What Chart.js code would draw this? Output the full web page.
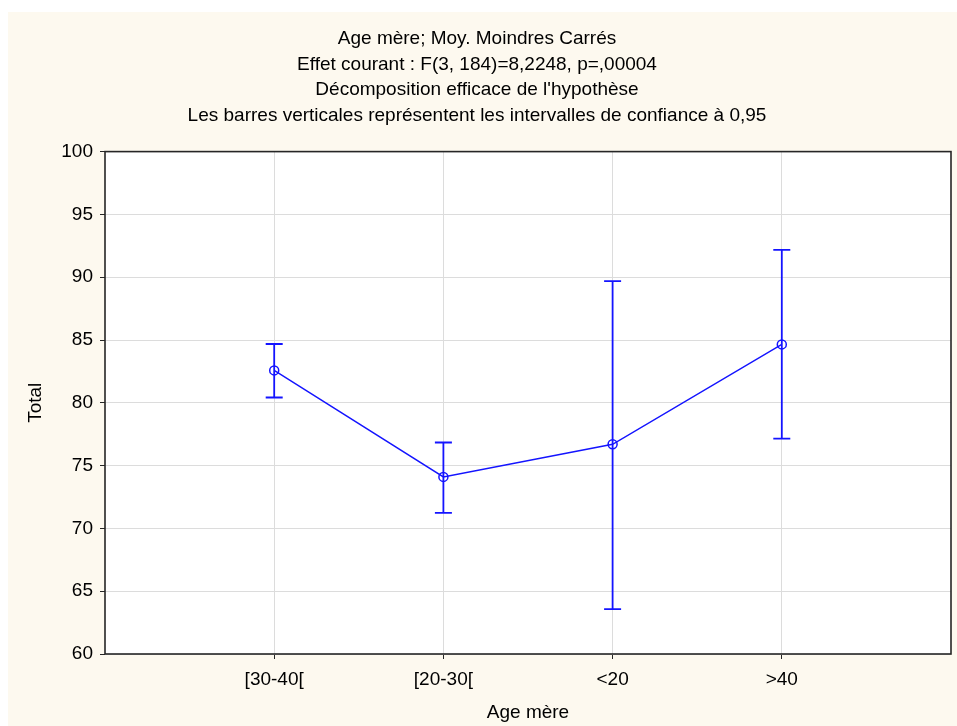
<!DOCTYPE html>
<html>
<head>
<meta charset="utf-8">
<script src="https://cdn.jsdelivr.net/npm/chart.js@4/dist/chart.umd.min.js"></script>
<style>
  html, body { margin: 0; padding: 0; background: #ffffff; }
  #wrap { width: 957px; height: 726px; }
</style>
</head>
<body>
<div id="wrap"><canvas id="chart" width="957" height="726"></canvas></div>
<script>
// Least-squares means of "Total" by mother's age group, with 95% confidence limits
const categories = ['[30-40[', '[20-30[', '<20', '>40'];
const means      = [82.58, 74.10, 76.70, 84.65];
const lowerCI    = [80.42, 71.24, 63.58, 77.15];
const upperCI    = [84.68, 76.84, 89.69, 92.18];
const yTicks     = [60, 65, 70, 75, 80, 85, 90, 95, 100];

const titleLines = [
  'Age mère; Moy. Moindres Carrés',
  'Effet courant : F(3, 184)=8,2248, p=,00004',
  'Décomposition efficace de l\'hypothèse',
  'Les barres verticales représentent les intervalles de confiance à 0,95'
];

const BLUE = '#1414ff';
const FONT = 'Liberation Sans, Arial, Helvetica, sans-serif';

// Page frame: cream surround, white plotting area
const framePlugin = {
  id: 'frame',
  beforeDraw(chart) {
    const { ctx, chartArea: a } = chart;
    ctx.save();
    ctx.fillStyle = '#ffffff';
    ctx.fillRect(0, 0, chart.width, chart.height);
    ctx.fillStyle = '#fdf9ef';
    ctx.fillRect(8, 12, chart.width - 8, chart.height - 12);
    ctx.fillStyle = '#ffffff';
    ctx.fillRect(a.left, a.top, a.right - a.left, a.bottom - a.top);
    ctx.restore();
  },
  afterDraw(chart) {
    const { ctx, chartArea: a } = chart;
    ctx.save();
    ctx.strokeStyle = '#262626';
    ctx.lineWidth = 1.6;
    ctx.strokeRect(a.left, a.top, a.right - a.left, a.bottom - a.top);
    ctx.restore();
  }
};

// Vertical confidence-interval bars with caps
const errorBarPlugin = {
  id: 'errorBars',
  afterDatasetsDraw(chart) {
    const { ctx, scales: { x, y } } = chart;
    const cap = 8.5;
    ctx.save();
    ctx.strokeStyle = BLUE;
    ctx.lineWidth = 1.8;
    categories.forEach((c, i) => {
      const px = x.getPixelForValue(i + 1);
      const yl = y.getPixelForValue(lowerCI[i]);
      const yu = y.getPixelForValue(upperCI[i]);
      ctx.beginPath();
      ctx.moveTo(px, yl); ctx.lineTo(px, yu);
      ctx.moveTo(px - cap, yu); ctx.lineTo(px + cap, yu);
      ctx.moveTo(px - cap, yl); ctx.lineTo(px + cap, yl);
      ctx.stroke();
    });
    ctx.restore();
  }
};

new Chart(document.getElementById('chart'), {
  type: 'line',
  data: {
    datasets: [{
      data: means.map((v, i) => ({ x: i + 1, y: v })),
      borderColor: BLUE,
      borderWidth: 1.4,
      tension: 0,
      pointStyle: 'circle',
      pointRadius: 4.5,
      pointBorderWidth: 1.5,
      pointBorderColor: BLUE,
      pointBackgroundColor: 'rgba(0,0,0,0)',
      fill: false
    }]
  },
  options: {
    responsive: false,
    animation: false,
    layout: { padding: { left: 0, top: 0, right: 3, bottom: 0 } },
    plugins: {
      legend: { display: false },
      tooltip: { enabled: false },
      title: {
        display: true,
        text: titleLines,
        color: '#000000',
        font: { family: FONT, size: 19, weight: 'normal', lineHeight: 1.35 },
        padding: { top: 26, bottom: 23 }
      }
    },
    scales: {
      x: {
        type: 'linear',
        min: 0,
        max: 5,
        afterBuildTicks(scale) {
          scale.ticks = categories.map((c, i) => ({ value: i + 1 }));
        },
        afterFit(scale) { scale.height = 72; },
        ticks: {
          color: '#000000',
          font: { family: FONT, size: 19 },
          padding: 9,
          maxRotation: 0,
          autoSkip: false,
          callback: (v) => categories[v - 1] ?? ''
        },
        grid: { color: '#dcdcdc', lineWidth: 1, tickColor: '#262626', tickLength: 5 },
        border: { display: false },
        title: {
          display: true,
          text: 'Age mère',
          color: '#000000',
          font: { family: FONT, size: 19, lineHeight: 1.2 },
          padding: { top: 0, bottom: 2 }
        }
      },
      y: {
        min: 60,
        max: 100,
        afterBuildTicks(scale) {
          scale.ticks = yTicks.map(v => ({ value: v }));
        },
        afterFit(scale) { scale.width = 105; },
        ticks: {
          color: '#000000',
          font: { family: FONT, size: 19 },
          padding: 7
        },
        grid: { color: '#dcdcdc', lineWidth: 1, tickColor: '#262626', tickLength: 5 },
        border: { display: false },
        title: {
          display: true,
          text: 'Total',
          color: '#000000',
          font: { family: FONT, size: 19, lineHeight: 1.2 },
          padding: { top: 24, bottom: 0 }
        }
      }
    }
  },
  plugins: [framePlugin, errorBarPlugin]
});
</script>
</body>
</html>
